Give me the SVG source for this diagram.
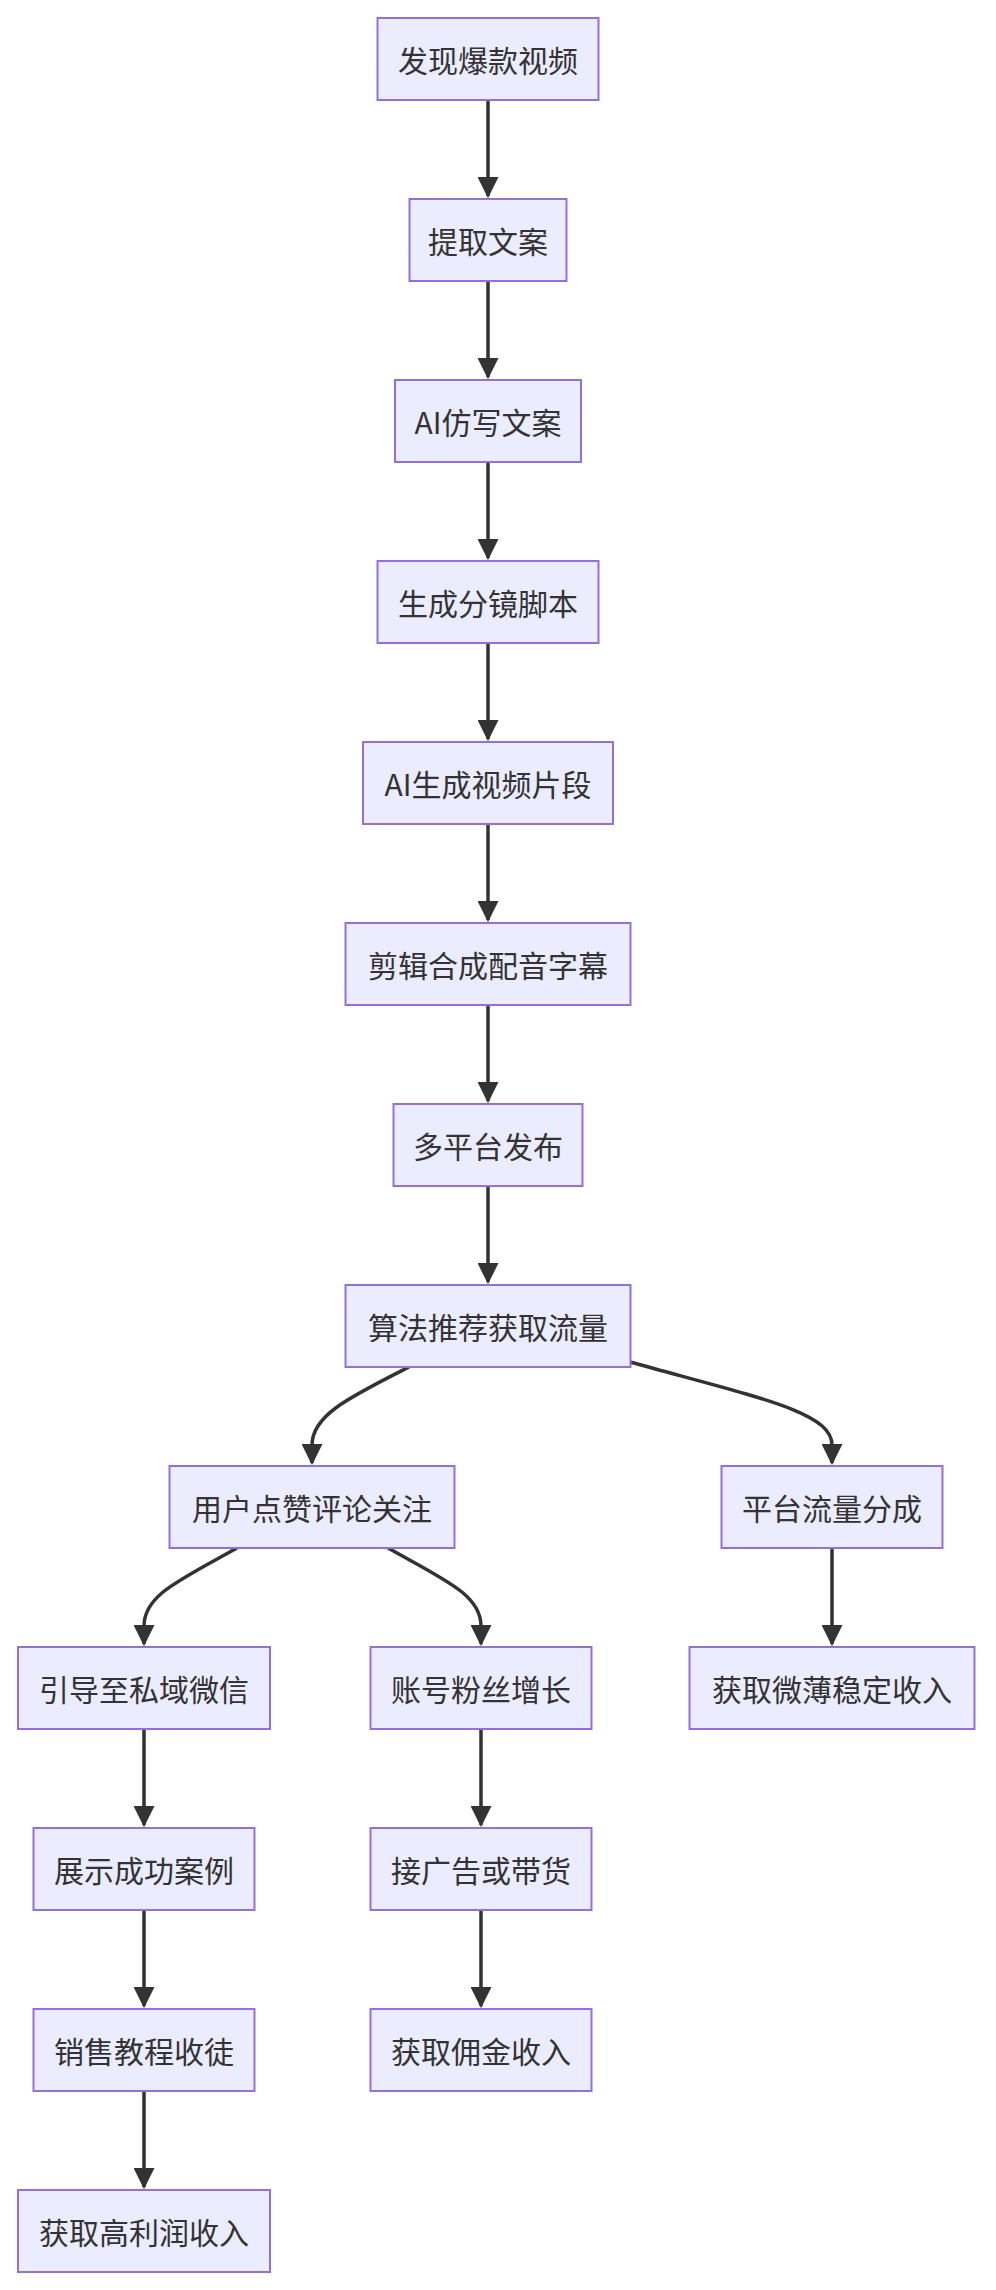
<svg xmlns="http://www.w3.org/2000/svg" width="996" height="2290" viewBox="0 0 996 2290">
<style>
.n rect{fill:#ECECFF;stroke:#9370DB;stroke-width:2}
.n text{font-family:"Noto Sans CJK SC","Liberation Sans",sans-serif;font-size:30px;fill:#333;text-anchor:middle;dominant-baseline:central}
.e path{fill:none;stroke:#333;stroke-width:3.5}
</style>
<defs><marker id="a" viewBox="0 0 10 10" refX="9" refY="5" markerWidth="6" markerHeight="6" markerUnits="strokeWidth" orient="auto"><path d="M0,0L10,5L0,10z" fill="#333"/></marker></defs>
<rect width="996" height="2290" fill="#fff"/>
<g class="e">
<path d="M488,100V196" marker-end="url(#a)"/>
<path d="M488,281V377" marker-end="url(#a)"/>
<path d="M488,462V558" marker-end="url(#a)"/>
<path d="M488,643V739" marker-end="url(#a)"/>
<path d="M488,824V920" marker-end="url(#a)"/>
<path d="M488,1005V1101" marker-end="url(#a)"/>
<path d="M488,1186V1282" marker-end="url(#a)"/>
<path d="M409,1367C350,1397 312,1415 312,1445V1463" marker-end="url(#a)"/>
<path d="M630,1362C760,1398 832,1412 832,1445V1463" marker-end="url(#a)"/>
<path d="M237,1548C180,1580 144,1595 144,1626V1644" marker-end="url(#a)"/>
<path d="M388,1548C445,1580 481,1595 481,1626V1644" marker-end="url(#a)"/>
<path d="M832,1548V1644" marker-end="url(#a)"/>
<path d="M144,1729V1825" marker-end="url(#a)"/>
<path d="M481,1729V1825" marker-end="url(#a)"/>
<path d="M144,1910V2006" marker-end="url(#a)"/>
<path d="M481,1910V2006" marker-end="url(#a)"/>
<path d="M144,2091V2187" marker-end="url(#a)"/>
</g>
<g id="n1" class="n"><rect x="377.5" y="18" width="221" height="82"/><text x="488" y="59">发现爆款视频</text></g>
<g id="n2" class="n"><rect x="409.5" y="199" width="157" height="82"/><text x="488" y="240">提取文案</text></g>
<g id="n3" class="n"><rect x="395" y="380" width="186" height="82"/><text x="488" y="421">AI仿写文案</text></g>
<g id="n4" class="n"><rect x="377.5" y="561" width="221" height="82"/><text x="488" y="602">生成分镜脚本</text></g>
<g id="n5" class="n"><rect x="363" y="742" width="250" height="82"/><text x="488" y="783">AI生成视频片段</text></g>
<g id="n6" class="n"><rect x="345.5" y="923" width="285" height="82"/><text x="488" y="964">剪辑合成配音字幕</text></g>
<g id="n7" class="n"><rect x="393.5" y="1104" width="189" height="82"/><text x="488" y="1145">多平台发布</text></g>
<g id="n8" class="n"><rect x="345.5" y="1285" width="285" height="82"/><text x="488" y="1326">算法推荐获取流量</text></g>
<g id="n9" class="n"><rect x="169.5" y="1466" width="285" height="82"/><text x="312" y="1507">用户点赞评论关注</text></g>
<g id="n10" class="n"><rect x="721.5" y="1466" width="221" height="82"/><text x="832" y="1507">平台流量分成</text></g>
<g id="n11" class="n"><rect x="18" y="1647" width="252" height="82"/><text x="144" y="1688">引导至私域微信</text></g>
<g id="n12" class="n"><rect x="370.5" y="1647" width="221" height="82"/><text x="481" y="1688">账号粉丝增长</text></g>
<g id="n13" class="n"><rect x="689.5" y="1647" width="285" height="82"/><text x="832" y="1688">获取微薄稳定收入</text></g>
<g id="n14" class="n"><rect x="33.5" y="1828" width="221" height="82"/><text x="144" y="1869">展示成功案例</text></g>
<g id="n15" class="n"><rect x="370.5" y="1828" width="221" height="82"/><text x="481" y="1869">接广告或带货</text></g>
<g id="n16" class="n"><rect x="33.5" y="2009" width="221" height="82"/><text x="144" y="2050">销售教程收徒</text></g>
<g id="n17" class="n"><rect x="370.5" y="2009" width="221" height="82"/><text x="481" y="2050">获取佣金收入</text></g>
<g id="n18" class="n"><rect x="18" y="2190" width="252" height="82"/><text x="144" y="2231">获取高利润收入</text></g>
</svg>
